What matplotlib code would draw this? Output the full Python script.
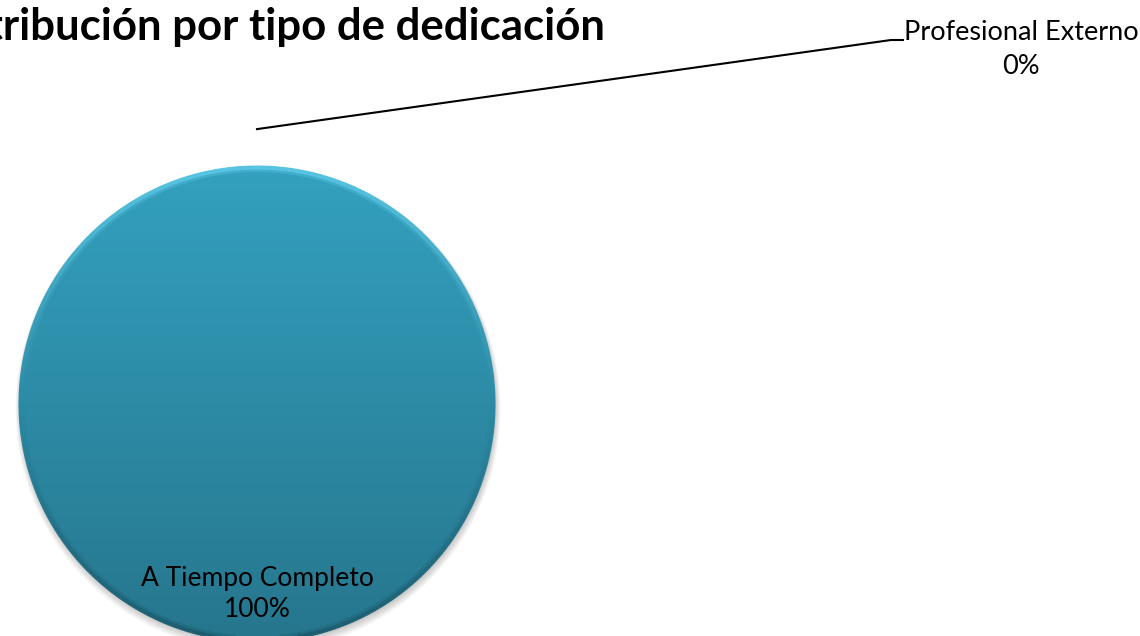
import numpy as np
import matplotlib
matplotlib.use('Agg')
import matplotlib.pyplot as plt
from matplotlib.colors import LinearSegmentedColormap
from matplotlib.collections import LineCollection

categories = ['A Tiempo Completo', 'Profesional Externo']
values = [100, 0]
title = 'Distribución por tipo de dedicación'

plt.rcParams['font.family'] = ['Lato', 'DejaVu Sans']

W, H = 1140, 636
fig = plt.figure(figsize=(W / 100, H / 100), dpi=100)
ax = fig.add_axes([0, 0, 1, 1])

cx, cy, r = 257, H - 404, 238

# soft drop shadow behind the pie
for k in range(6):
    sh = plt.Circle((cx + 1, cy - 2 - k * 0.6), r + k * 0.9, color='black',
                    alpha=0.035, lw=0, zorder=0)
    ax.add_patch(sh)

wedges, _ = ax.pie(values, center=(cx, cy), radius=r, startangle=90,
                   counterclock=False, colors=['#2e94b0', '#2e94b0'],
                   wedgeprops=dict(linewidth=0), frame=True)
ax.set_xlim(0, W)
ax.set_ylim(0, H)
ax.set_aspect('equal')
ax.axis('off')

# vertical gradient inside the big slice
cmap = LinearSegmentedColormap.from_list('g', ['#26768d', '#2d8ba6', '#33a1bf'])
grad = np.linspace(0, 1, 256).reshape(-1, 1)
im = ax.imshow(grad, cmap=cmap, origin='lower', aspect='auto',
               extent=(cx - r, cx + r, cy - r, cy + r), zorder=2)
im.set_clip_path(wedges[0])

# bevelled rim: light at the top, dark at the bottom
theta = np.linspace(0, 2 * np.pi, 721)
rim_cmap = LinearSegmentedColormap.from_list('rim', ['#1d5a6c', '#2b8aa4', '#5fcbe8'])
for rr, lw, a in [(r - 1.5, 3, 0.9), (r - 4, 3, 0.35)]:
    px = cx + rr * np.cos(theta)
    py = cy + rr * np.sin(theta)
    pts = np.column_stack([px, py]).reshape(-1, 1, 2)
    segs = np.concatenate([pts[:-1], pts[1:]], axis=1)
    lc = LineCollection(segs, cmap=rim_cmap, linewidths=lw, alpha=a, zorder=3)
    lc.set_array((np.sin(theta[:-1]) + 1) / 2)
    ax.add_collection(lc)

# labels
pcts = [v / sum(values) * 100 for v in values]
ax.text(cx, H - 594, f'{categories[0]}\n{pcts[0]:.0f}%', ha='center',
        va='center', fontsize=19, linespacing=1.3, color='black', zorder=5)

# leader line for the zero slice (at the top of the pie)
ang = np.deg2rad(90)
x0, y0 = cx + r * 1.155 * np.cos(ang), cy + r * 1.155 * np.sin(ang)
ax.plot([x0, 891, 903], [y0, H - 40, H - 40], color='black', lw=1.5, zorder=5)
ax.text(1021, H - 50, f'{categories[1]}\n{pcts[1]:.0f}%', ha='center',
        va='center', fontsize=19.5, linespacing=1.45, color='black')

ax.text(605, H - 27, title, ha='right', va='center', fontsize=31.5,
        fontweight='bold', color='black')

fig.savefig('out.png', dpi=100)
